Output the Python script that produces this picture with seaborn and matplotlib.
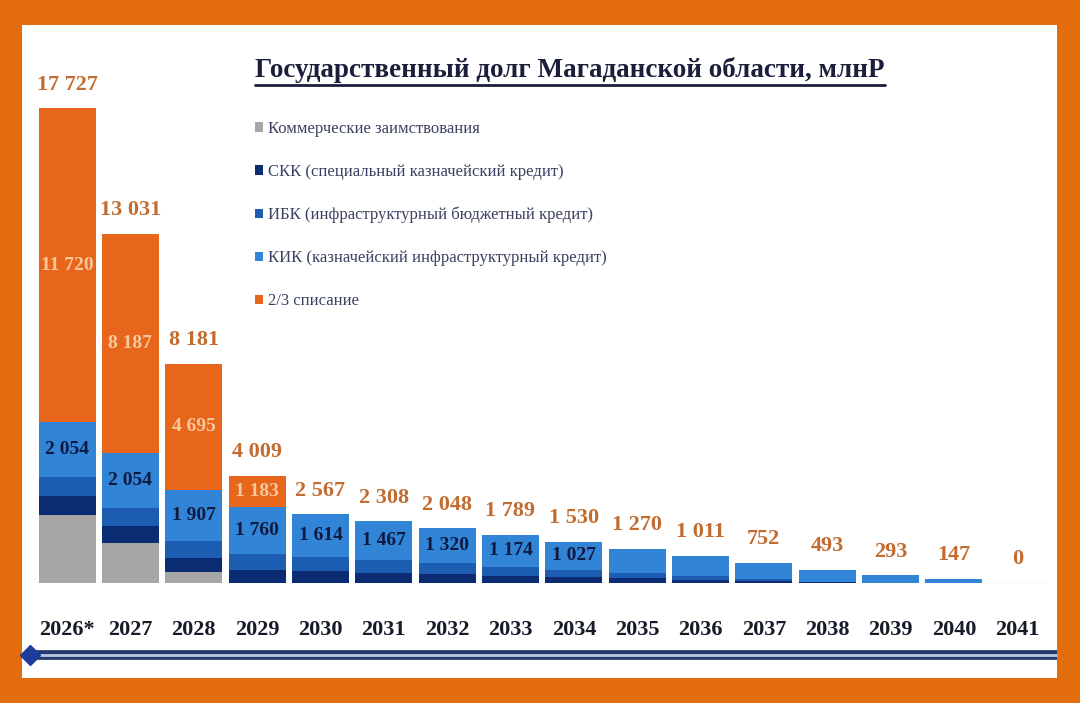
import numpy as np
import pandas as pd
import seaborn as sns
import matplotlib.pyplot as plt
from matplotlib.lines import Line2D
from matplotlib.patches import Rectangle

# --- data (млн руб.) ---
years = ['2026*', '2027', '2028', '2029', '2030', '2031', '2032', '2033',
         '2034', '2035', '2036', '2037', '2038', '2039', '2040', '2041']
commercial = [2548, 1498, 400, 0, 0, 0, 0, 0, 0, 0, 0, 0, 0, 0, 0, 0]
skk = [700, 612, 539, 486, 433, 381, 328, 275, 223, 170, 118, 65, 23, 0, 0, 0]
ibk = [705, 680, 640, 580, 520, 460, 400, 340, 280, 220, 160, 100, 30, 0, 0, 0]
kik = [2054, 2054, 1907, 1760, 1614, 1467, 1320, 1174, 1027, 880, 733, 587, 440, 293, 147, 0]
writeoff = [11720, 8187, 4695, 1183, 0, 0, 0, 0, 0, 0, 0, 0, 0, 0, 0, 0]
totals = [17727, 13031, 8181, 4009, 2567, 2308, 2048, 1789, 1530, 1270,
          1011, 752, 493, 293, 147, 0]

series_names = ['Коммерческие заимствования',
                'СКК (специальный казначейский кредит)',
                'ИБК (инфраструктурный бюджетный кредит)',
                'КИК (казначейский инфраструктурный кредит)',
                '2/3 списание']
colors = ['#a6a6a6', '#0b2c72', '#1c5db2', '#3285d6', '#e8661c']

df = pd.DataFrame({'year': years, 'commercial': commercial, 'skk': skk,
                   'ibk': ibk, 'kik': kik, 'writeoff': writeoff})
layers = ['commercial', 'skk', 'ibk', 'kik', 'writeoff']
cum = df[layers].cumsum(axis=1)


def fmt(v):
    return f"{v:,}".replace(',', ' ')


sns.set_theme(style='white')
plt.rcParams['font.family'] = ['Liberation Serif', 'DejaVu Serif']

fig = plt.figure(figsize=(10.8, 7.03), dpi=100, facecolor='#e36c0d')
fig.patches.append(Rectangle((0.0204, 0.0356), 0.9583, 0.9288,
                             transform=fig.transFigure, facecolor='white',
                             edgecolor='none', zorder=-5))

ax = fig.add_axes([0.0328, 0.1707, 0.9384, 0.687])
ax.set_facecolor('none')
ax.set_zorder(2)

# stacked bars: draw cumulative heights from the top layer down
for name, label, col in reversed(list(zip(layers, series_names, colors))):
    sns.barplot(x=df['year'], y=cum[name], color=col, saturation=1,
                width=0.9, errorbar=None, label=label, ax=ax,
                linewidth=0)

ax.set_ylim(0, 18030)
ax.set_xlim(-0.5, len(years) - 0.5)
ax.axhline(0, color='#d9d9d9', lw=1, zorder=0)
sns.despine(ax=ax, left=True, bottom=True)
ax.set_yticks([])
ax.set_xlabel('')
ax.set_ylabel('')
ax.tick_params(axis='x', length=0, pad=27)
for t in ax.get_xticklabels():
    t.set_fontsize(16)
    t.set_fontweight('bold')
    t.set_color('#161b28')

# value labels
for i in range(len(years)):
    ax.annotate(fmt(totals[i]), (i, totals[i]), xytext=(0, 17),
                textcoords='offset points', ha='center', va='center',
                fontsize=16, fontweight='bold', color='#c26c30')
    if writeoff[i] > 0:
        y = cum['kik'][i] + writeoff[i] / 2
        ax.text(i, y, fmt(writeoff[i]), ha='center', va='center',
                fontsize=14, fontweight='bold', color='#f7c89c')
    if kik[i] > 0 and i <= 8:
        y = cum['ibk'][i] + kik[i] / 2
        ax.text(i, y, fmt(kik[i]), ha='center', va='center',
                fontsize=14, fontweight='bold', color='#0e1a40')

handles, labels = ax.get_legend_handles_labels()
ax.legend(handles[::-1], labels[::-1], loc='upper left',
          bbox_to_anchor=(0.236, 0.828), bbox_transform=fig.transFigure,
          frameon=False, handlelength=0.5, handleheight=0.5,
          handletextpad=0.3, labelspacing=1.62, borderpad=0,
          borderaxespad=0, prop={'size': 12}, labelcolor='#3b4160')

title = fig.text(0.5278, 0.9, 'Государственный долг Магаданской области, млнР',
                 ha='center', va='center', fontsize=19.5, fontweight='bold',
                 color='#1b1f3b')
fig.canvas.draw()
bb = title.get_window_extent().transformed(fig.transFigure.inverted())
fig.add_artist(Line2D([bb.x0, bb.x1], [bb.y0 - 0.002, bb.y0 - 0.002],
                      transform=fig.transFigure, color='#1b1f3b', lw=2))

# bottom double rule with diamond
yl = 1 - 655 / 703
fig.add_artist(Line2D([0.027, 0.9787], [yl, yl], transform=fig.transFigure,
                      color='#22396e', lw=7, solid_capstyle='butt'))
fig.add_artist(Line2D([0.027, 0.9787], [yl, yl], transform=fig.transFigure,
                      color='#b9c8e2', lw=2, solid_capstyle='butt'))
fig.add_artist(Line2D([0.028], [yl], transform=fig.transFigure, marker='D',
                      markersize=10, color='#1e3c9a', linestyle='none'))

fig.savefig('out.png', dpi=100, facecolor=fig.get_facecolor())
